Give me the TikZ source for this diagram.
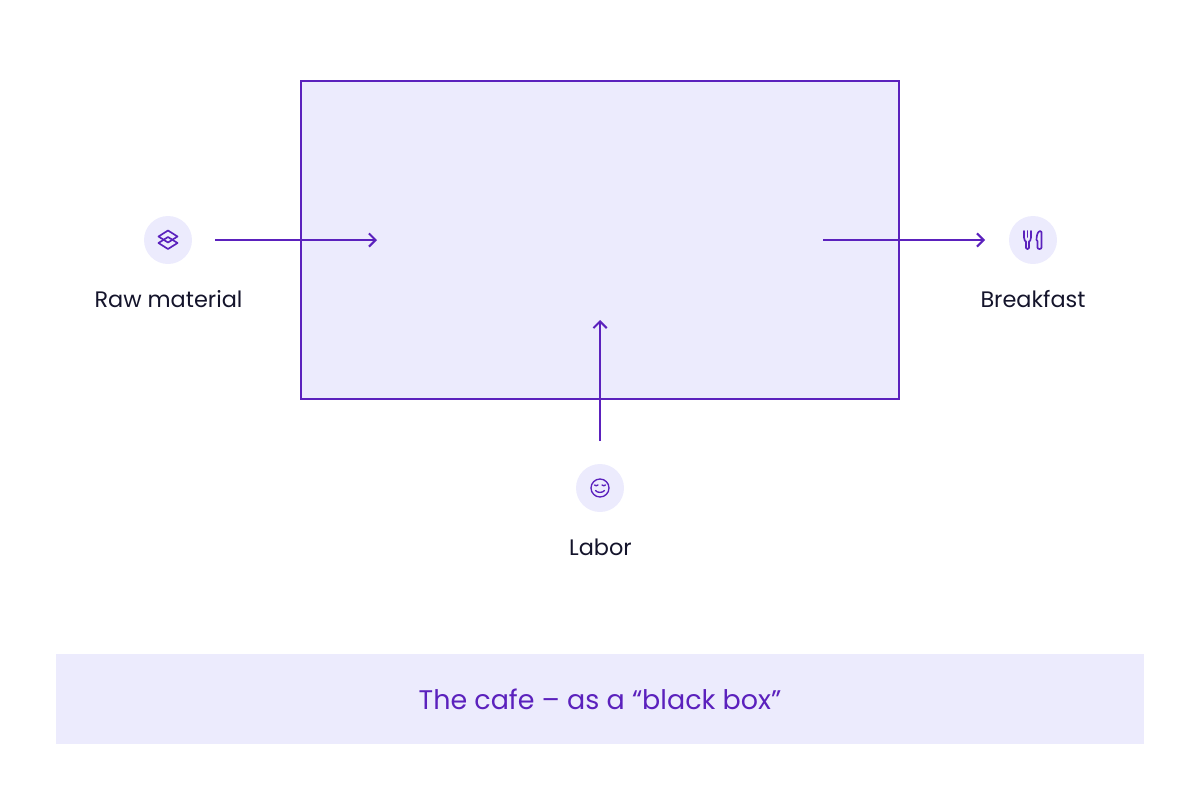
\documentclass[tikz,border=0pt]{standalone}
\usepackage{fontspec}
\setmainfont{Poppins}
\usetikzlibrary{arrows.meta}
\definecolor{cafepurple}{HTML}{5B21BD}
\definecolor{cafelight}{HTML}{ECEBFD}
\definecolor{cafeink}{HTML}{14142B}
\tikzset{
  >={Straight Barb[length=5pt,width=10pt,line width=1.5pt]},
  flow/.style={draw=cafepurple,line width=1.5pt,->},
  badge/.style={circle,fill=cafelight,minimum size=36pt,inner sep=0pt,outer sep=0pt},
  glyph/.style={draw=cafepurple,line width=1.25pt,line join=round,line cap=round},
  caption/.style={text=cafeink,font=\fontsize{16.8}{20}\selectfont},
}
\begin{document}
\begin{tikzpicture}[x=0.75pt,y=-0.75pt]
  \useasboundingbox (0,0) rectangle (1200,800);

  \node[draw=cafepurple,fill=cafelight,line width=1.5pt,minimum width=448.5pt,minimum height=238.5pt,inner sep=0pt] (cafe) at (600,240) {};
  \node[fill=cafelight,minimum width=816pt,minimum height=67.5pt,inner sep=0pt,text=cafepurple,font=\fontsize{20.2}{24}\selectfont] (title) at (600,699) {The cafe – as a “black box”};

  \node[badge] (raw) at (168,240) {};
  \node[badge] (breakfast) at (1033,240) {};
  \node[badge] (labor) at (600,488) {};

  \node[caption] (rawtext) at (168.5,299) {Raw material};
  \node[caption] (breakfasttext) at (1033,299) {Breakfast};
  \node[caption] (labortext) at (600.5,547) {Labor};

  \coordinate (rawin) at (377,240);
  \coordinate (breakfastout) at (823,240);
  \coordinate (laborin) at (600,320);

  \draw[flow,shorten <=17.25pt] (raw) to (rawin);
  \draw[flow,shorten >=18pt] (breakfastout) to (breakfast);
  \draw[flow,shorten <=17.25pt] (labor) to (laborin);

  \draw[glyph] (168,230.5) -- (177.5,236.5) -- (168,242.5) -- (158.5,236.5) -- cycle;
  \draw[glyph] (168,237) -- (177.5,243) -- (168,249) -- (158.5,243) -- cycle;

  \draw[glyph] (1024,231) -- (1024,237.5) .. controls (1024,240.5) and (1025.5,241.5) .. (1026,241.5) -- (1026,248) .. controls (1026,249.5) and (1029,249.5) .. (1029,248) -- (1029,241.5) .. controls (1029.5,241.5) and (1031,240.5) .. (1031,237.5) -- (1031,231);
  \draw[glyph] (1027.5,231) -- (1027.5,237);
  \draw[glyph] (1040,231) .. controls (1037.5,231.5) and (1036.5,236) .. (1036.5,240) -- (1037.5,241) -- (1037.5,247.5) .. controls (1037.5,249.5) and (1041.5,249.5) .. (1041.5,247.5) -- (1041.5,232) .. controls (1041.5,231) and (1041,231) .. (1040,231) -- cycle;

  \draw[glyph,line width=1pt] (600,488) circle[radius=9];
  \draw[glyph,line width=1pt] (594.5,485) .. controls (595.5,486) and (597,486) .. (598,485);
  \draw[glyph,line width=1pt] (602,485) .. controls (603,486) and (604.5,486) .. (605.5,485);
  \draw[glyph,line width=1pt] (595.5,490.5) .. controls (597,493) and (603,493) .. (604.5,490.5);
\end{tikzpicture}
\end{document}
